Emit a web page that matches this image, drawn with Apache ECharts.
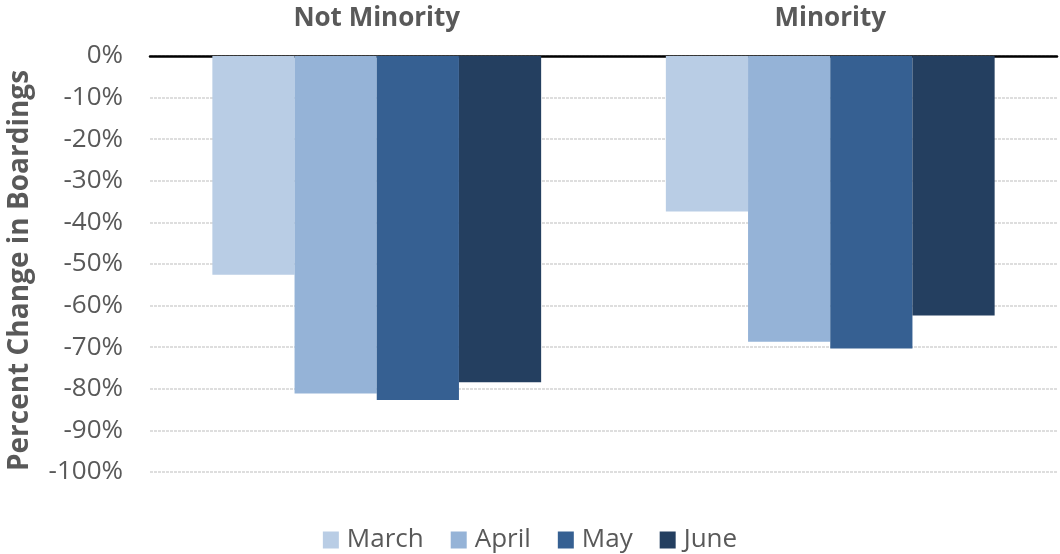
<!DOCTYPE html>
<html>
<head>
<meta charset="utf-8">
<script src="https://cdn.jsdelivr.net/npm/echarts@6/dist/echarts.min.js"></script>
<style>
html,body{margin:0;padding:0;background:#fff;}
#chart{width:1060px;height:554px;}
</style>
</head>
<body>
<div id="chart"></div>
<script>
const categories = ["Not Minority", "Minority"];
const seriesNames = ["March", "April", "May", "June"];
const march = [-52.6, -37.4];
const april = [-81.1, -68.7];
const may = [-82.7, -70.3];
const june = [-78.4, -62.4];
const yTicks = [0, -10, -20, -30, -40, -50, -60, -70, -80, -90, -100];
const colors = ["#B9CDE5", "#95B3D7", "#366092", "#243F60"];

const seriesData = [march, april, may, june];
const fontFam = "'Open Sans', sans-serif";
const chart = echarts.init(document.getElementById('chart'));
chart.setOption({
  animation: false,
  color: colors,
  grid: { left: 150, right: 3, top: 56, bottom: 82, containLabel: false, outerBoundsMode: 'none' },
  legend: {
    data: seriesNames,
    top: 522,
    left: 'center',
    itemWidth: 16,
    itemHeight: 17,
    itemGap: 27,
    icon: 'rect',
    textStyle: { fontFamily: fontFam, fontSize: 26, color: '#595959', padding: [0, 0, 0, 3] }
  },
  xAxis: {
    type: 'category',
    position: 'top',
    data: categories,
    axisTick: { show: false },
    axisLine: { show: true, onZero: true, lineStyle: { color: '#000', width: 2.5 } },
    axisLabel: { fontFamily: fontFam, fontSize: 26, fontWeight: 'bold', color: '#595959', margin: 24 },
    splitLine: { show: false }
  },
  yAxis: {
    type: 'value',
    min: -100,
    max: 0,
    interval: 10,
    name: 'Percent Change in Boardings',
    nameLocation: 'middle',
    nameGap: 116,
    nameTextStyle: { fontFamily: fontFam, fontSize: 28, fontWeight: 'bold', color: '#595959', padding: [0, 13, 0, 0] },
    axisLine: { show: false },
    axisTick: { show: false },
    axisLabel: {
      fontFamily: fontFam, fontSize: 26, color: '#595959', margin: 27,
      formatter: function (v) { return v + '%'; }
    },
    splitLine: { show: true, lineStyle: { color: '#d4d4d4', width: 1.5, type: [3, 1] } }
  },
  series: seriesNames.map(function (name, i) {
    return {
      name: name,
      type: 'bar',
      data: seriesData[i],
      barGap: '0%',
      barCategoryGap: '27.5%',
      itemStyle: { color: colors[i] }
    };
  })
});
</script>
</body>
</html>
